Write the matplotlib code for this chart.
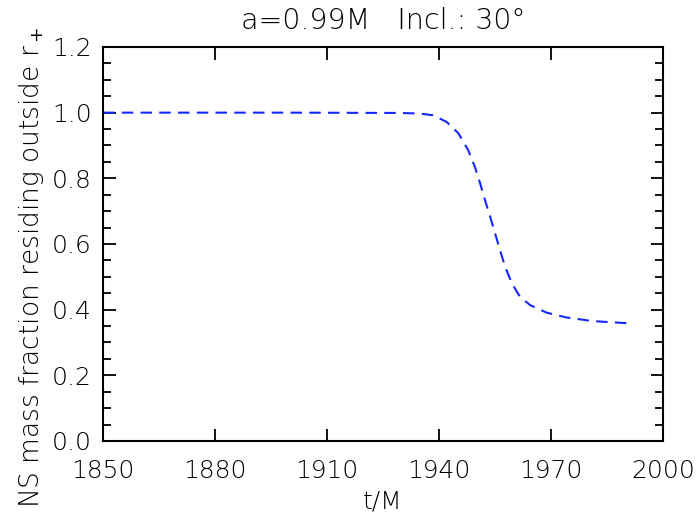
import numpy as np
import matplotlib
matplotlib.use('Agg')
import matplotlib.pyplot as plt
from matplotlib import font_manager
from matplotlib.ticker import MultipleLocator

# mass fraction of the neutron star still outside the horizon, vs time
t_over_m = [1850, 1900, 1930, 1935, 1938.4, 1942.0, 1945.2, 1947.8, 1949.6,
            1951.0, 1952.3, 1953.7, 1955.0, 1956.3, 1957.7, 1959.5, 1961.7,
            1964.4, 1968.8, 1974.2, 1981.3, 1991.5]
mass_frac = [1.0, 1.0, 0.999, 0.997, 0.992, 0.972, 0.937, 0.886, 0.835,
             0.785, 0.734, 0.683, 0.633, 0.582, 0.531, 0.480, 0.439,
             0.414, 0.391, 0.376, 0.365, 0.358]

x_ticks = [1850, 1880, 1910, 1940, 1970, 2000]
y_ticks = [0.0, 0.2, 0.4, 0.6, 0.8, 1.0, 1.2]


def pick_thin_font():
    # a thin-stroked sans if one is installed, otherwise plain DejaVu
    for fam in ['DejaVu Sans', 'Lato', 'Roboto', 'Open Sans', 'Noto Sans']:
        for f in font_manager.fontManager.ttflist:
            if f.name == fam and f.style == 'normal' and f.weight in (200, 250, 300, 'light', 'extra-light'):
                return f.fname
    return None


thin = pick_thin_font()
if thin:
    prop = font_manager.FontProperties(fname=thin)
else:
    prop = font_manager.FontProperties(family='DejaVu Sans')

fig = plt.figure(figsize=(6.98, 5.22), dpi=100)
ax = fig.add_axes([0.1476, 0.1552, 0.8023, 0.7548])

ax.plot(t_over_m, mass_frac, color='#1428ff', lw=1.5, dashes=(5.5, 3.5))

ax.set_xlim(1850, 2000)
ax.set_ylim(0.0, 1.2)
ax.set_xticks(x_ticks)
ax.set_yticks(y_ticks)
ax.set_xticklabels([str(v) for v in x_ticks])
ax.set_yticklabels(['%.1f' % v for v in y_ticks])
ax.yaxis.set_minor_locator(MultipleLocator(0.05))

ax.tick_params(which='both', direction='in', top=True, right=True,
               color='black', width=1.3)
ax.tick_params(which='major', length=9)
ax.tick_params(axis='x', which='major', pad=13)
ax.tick_params(axis='y', which='major', pad=8)
ax.tick_params(which='minor', length=6)
for lab in ax.get_xticklabels() + ax.get_yticklabels():
    lab.set_fontproperties(prop)
    lab.set_fontsize(18)
for sp in ax.spines.values():
    sp.set_linewidth(1.5)

ax.set_xlabel('t/M', fontproperties=prop, fontsize=18, labelpad=5)
ax.set_ylabel('NS mass fraction residing outside r$_+$', fontproperties=prop,
              fontsize=19)
ax.yaxis.set_label_coords(-0.102, 0.44)
ax.set_title('a=0.99M   Incl.: 30°', fontproperties=prop, fontsize=20.5, pad=13)

fig.savefig('out.png', dpi=100)
